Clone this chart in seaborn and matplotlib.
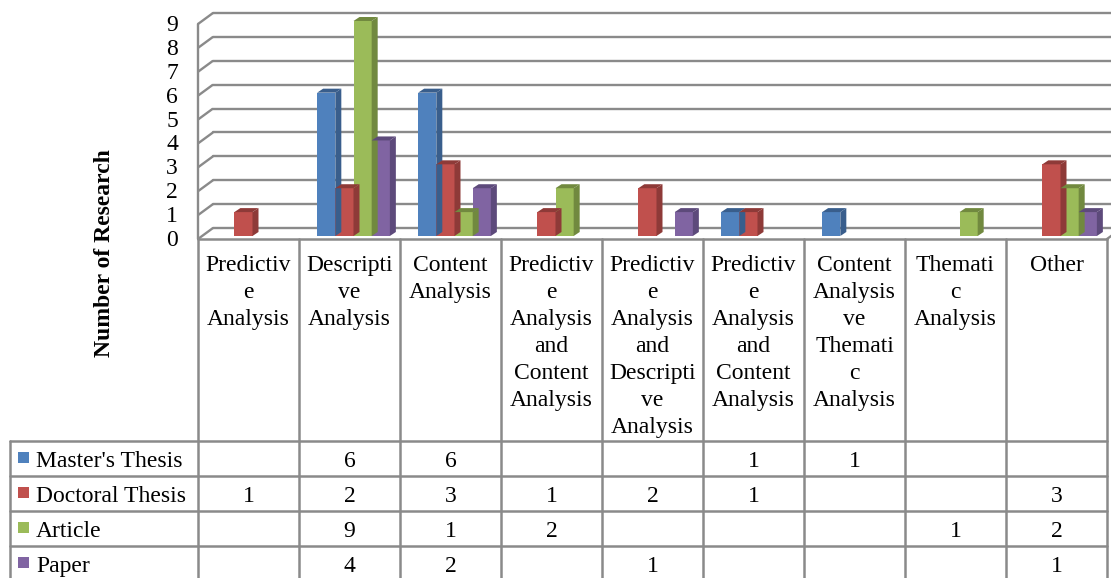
import numpy as np
import pandas as pd
import matplotlib
matplotlib.use("Agg")
import matplotlib.pyplot as plt
import matplotlib.transforms as mtransforms
from matplotlib.patches import Polygon, Rectangle
import seaborn as sns

# ---- data -------------------------------------------------------------
categories = [
    "Predictive Analysis",
    "Descriptive Analysis",
    "Content Analysis",
    "Predictive Analysis and Content Analysis",
    "Predictive Analysis and Descriptive Analysis",
    "Predictive Analysis and Content Analysis",
    "Content Analysis ve Thematic Analysis",
    "Thematic Analysis",
    "Other",
]
header_labels = [
    ["Predictiv", "e", "Analysis"],
    ["Descripti", "ve", "Analysis"],
    ["Content", "Analysis"],
    ["Predictiv", "e", "Analysis", "and", "Content", "Analysis"],
    ["Predictiv", "e", "Analysis", "and", "Descripti", "ve", "Analysis"],
    ["Predictiv", "e", "Analysis", "and", "Content", "Analysis"],
    ["Content", "Analysis", "ve", "Themati", "c", "Analysis"],
    ["Themati", "c", "Analysis"],
    ["Other"],
]
series_names = ["Master's Thesis", "Doctoral Thesis", "Article", "Paper"]
nan = np.nan
masters = [nan, 6, 6, nan, nan, 1, 1, nan, nan]
doctoral = [1, 2, 3, 1, 2, 1, nan, nan, 3]
article = [nan, 9, 1, 2, nan, nan, nan, 1, 2]
paper = [nan, 4, 2, nan, 1, nan, nan, nan, 1]
series_values = [masters, doctoral, article, paper]
y_ticks = list(range(0, 10))
y_title = "Number of Research"

front_colors = ["#4F81BD", "#C0504D", "#9BBB59", "#8064A2"]
side_colors = ["#395E8C", "#8E3A38", "#71893F", "#5D4A7B"]
grid_color = "#8A8A8A"

rows = []
for name, vals in zip(series_names, series_values):
    for i, v in enumerate(vals):
        rows.append({"cat": i, "type": name, "count": v})
df = pd.DataFrame(rows)

# ---- figure -----------------------------------------------------------
sns.set_style("white")
plt.rcParams["font.family"] = ["Liberation Serif", "DejaVu Serif"]
plt.rcParams["text.color"] = "black"
FS = 17

W, H = 1111, 578
fig = plt.figure(figsize=(W / 100, H / 100), dpi=100)

# overlay in pixel coordinates (y downwards) for walls, grid and table
ov = fig.add_axes([0, 0, 1, 1], zorder=0)
ov.set_xlim(0, W)
ov.set_ylim(H, 0)
ov.axis("off")

# plotting axes: front plane of the 3-D box
x_left, x_right = 198, 1107
y_base, y_top = 239, 24
ax = fig.add_axes([x_left / W, (H - y_base) / H, (x_right - x_left) / W,
                   (y_base - y_top) / H], zorder=1)
ax.patch.set_alpha(0)

sns.barplot(data=df, x="cat", y="count", hue="type", hue_order=series_names,
            palette=front_colors, width=0.72, errorbar=None, legend=False,
            linewidth=0, ax=ax, saturation=1)
ax.set_xlim(-0.5, len(categories) - 0.5)
ax.set_ylim(0, 9)
ax.axis("off")


def to_px(xd, yd):
    dx, dy = ax.transData.transform((xd, yd))
    return dx, H - dy


# depth of the box (back wall offset) and of the bars
back_dx, back_dy = 15, 11
bar_dx, bar_dy = 4, 3
depth_dx, depth_dy = 6, 4

# back wall gridlines and the left wall diagonals
for v in y_ticks:
    fx, fy = to_px(-0.5, v)
    ov.plot([fx, fx + back_dx], [fy, fy - back_dy], color=grid_color, lw=1.7,
            solid_capstyle="butt")
    ov.plot([fx + back_dx, W + 5], [fy - back_dy, fy - back_dy],
            color=grid_color, lw=1.7)
fx0, fy0 = to_px(-0.5, 0)
fx9, fy9 = to_px(-0.5, 9)
ov.plot([fx0, fx9], [fy0, fy9], color=grid_color, lw=1.7)
rx, ry = to_px(len(categories) - 0.5, 0)
ov.plot([rx, rx + back_dx], [ry, ry - back_dy], color=grid_color, lw=1.7)

# 3-D bars: shift front faces and add side and top faces
shift = mtransforms.offset_copy(ax.transData, fig=fig, x=bar_dx, y=bar_dy,
                                units="dots")
ident = mtransforms.IdentityTransform()
for container, side in zip(ax.containers, side_colors):
    for bar in container:
        h = bar.get_height()
        if not np.isfinite(h) or h <= 0:
            continue
        bar.set_transform(shift)
        bar.set_clip_on(False)
        x0, y0 = ax.transData.transform((bar.get_x(), 0))
        x1, y1 = ax.transData.transform((bar.get_x() + bar.get_width(), h))
        x0 += bar_dx; x1 += bar_dx; y0 += bar_dy; y1 += bar_dy
        right = Polygon([(x1, y0), (x1 + depth_dx, y0 + depth_dy),
                         (x1 + depth_dx, y1 + depth_dy), (x1, y1)],
                        closed=True, facecolor=side, edgecolor="none",
                        transform=ident, clip_on=False)
        top = Polygon([(x0, y1), (x1, y1), (x1 + depth_dx, y1 + depth_dy),
                       (x0 + depth_dx, y1 + depth_dy)],
                      closed=True, facecolor=side, edgecolor="none",
                      transform=ident, clip_on=False)
        ax.add_patch(right)
        ax.add_patch(top)

# y tick labels and title
for v in y_ticks:
    _, py = to_px(-0.5, v)
    ov.text(178, py + 7, str(v), ha="right", va="baseline", fontsize=FS)
ov.text(104, 253, y_title, rotation=90, ha="center", va="center",
        fontsize=FS, fontweight="bold")

# ---- data table -------------------------------------------------------
tbl_color = "#8A8A8A"
tbl_lw = 1.8
row_tops = [441, 476, 511, 546]
legend_left = 10
edges = [to_px(i - 0.5, 0)[0] for i in range(len(categories) + 1)]

ov.plot([edges[0], edges[-1]], [y_base, y_base], color=tbl_color, lw=tbl_lw)
for ex in edges:
    ov.plot([ex, ex], [y_base, H + 2], color=tbl_color, lw=tbl_lw)
ov.plot([legend_left, legend_left], [row_tops[0], H + 2], color=tbl_color,
        lw=tbl_lw)
for rt in row_tops:
    ov.plot([legend_left, edges[-1]], [rt, rt], color=tbl_color, lw=tbl_lw)

# column headers
for i, lines in enumerate(header_labels):
    cx = (edges[i] + edges[i + 1]) / 2
    for k, line in enumerate(lines):
        ov.text(cx, 271 + 27 * k, line, ha="center", va="baseline",
                fontsize=FS)

# legend keys and values
for rt, name, vals, col in zip(row_tops, series_names, series_values,
                               front_colors):
    ov.add_patch(Rectangle((18, rt + 11), 11, 11, facecolor=col,
                           edgecolor="none"))
    ov.text(36, rt + 26, name, ha="left", va="baseline", fontsize=FS)
    for i, v in enumerate(vals):
        if np.isfinite(v):
            cx = (edges[i] + edges[i + 1]) / 2
            ov.text(cx, rt + 26, f"{v:g}", ha="center", va="baseline",
                    fontsize=FS)

fig.savefig("out.png", dpi=100)
